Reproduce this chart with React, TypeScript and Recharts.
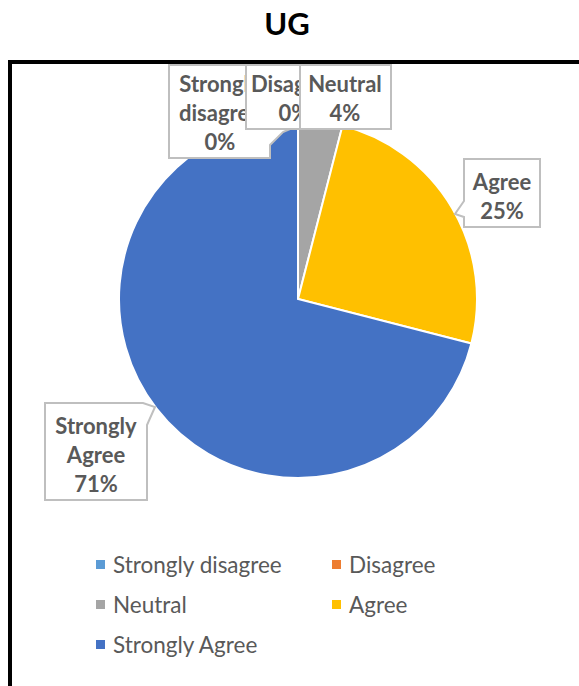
import { PieChart, Pie, Cell, Legend } from "recharts"

const categories = ["Strongly disagree", "Disagree", "Neutral", "Agree", "Strongly Agree"]
const shares = [0, 0, 4, 25, 71]
const colors = ["#5B9BD5", "#ED7D31", "#A5A5A5", "#FFC000", "#4472C4"]
const title = "UG"

const data = categories.map((name, i) => ({ name, value: shares[i] }))

const CX = 298
const CY = 299
const FONT = "Lato, 'Open Sans', sans-serif"
const GREY_TEXT = "#595959"

// callout outlines (absolute px, shifted to the pie centre below) and text centres
const callouts: { pts: [number, number][]; tx: number; ty: number }[] = [
  {
    pts: [[169, 65], [290, 65], [290, 129], [283, 132], [270, 145], [270, 158], [169, 158]],
    tx: 220,
    ty: 83,
  },
  { pts: [[246, 65], [342, 65], [342, 129], [246, 129]], tx: 294, ty: 83 },
  { pts: [[300, 65], [391, 65], [391, 129], [300, 129]], tx: 345, ty: 83 },
  {
    pts: [[464, 159], [540, 159], [540, 227], [464, 227], [464, 217], [455, 214], [464, 201]],
    tx: 502,
    ty: 181,
  },
  {
    pts: [[45, 403], [143, 403], [155, 407], [147, 425], [147, 500], [45, 500]],
    tx: 96,
    ty: 425,
  },
]

function CalloutLabel(props: any) {
  const { cx, cy, index, name, percent } = props
  const c = callouts[index]
  if (!c) return null
  const dx = cx - CX
  const dy = cy - CY
  const d =
    c.pts.map(([x, y], i) => `${i === 0 ? "M" : "L"}${x + dx},${y + dy}`).join(" ") + " Z"
  const lines = [...String(name).split(" "), `${Math.round(percent * 100)}%`]
  return (
    <g>
      <path d={d} fill="#FFFFFF" stroke="#BFBFBF" strokeWidth={2} />
      {lines.map((t, i) => (
        <text
          key={i}
          x={c.tx + dx}
          y={c.ty + dy + i * 29}
          textAnchor="middle"
          dominantBaseline="central"
          fontFamily={FONT}
          fontWeight={700}
          fontSize={22}
          fill={GREY_TEXT}
        >
          {t}
        </text>
      ))}
    </g>
  )
}

function LegendGrid({ payload }: any) {
  const items = [...(payload || [])].sort(
    (a: any, b: any) => categories.indexOf(a.value) - categories.indexOf(b.value)
  )
  return (
    <div style={{ display: "grid", gridTemplateColumns: "236px 200px" }}>
      {items.map((item: any) => (
        <div
          key={item.value}
          style={{ display: "flex", alignItems: "center", height: 40 }}
        >
          <span
            style={{ width: 9, height: 9, background: item.color, marginRight: 8, flex: "none" }}
          />
          <span style={{ fontFamily: FONT, fontSize: 22.5, color: GREY_TEXT, whiteSpace: "nowrap" }}>
            {item.value}
          </span>
        </div>
      ))}
    </div>
  )
}

export default function App() {
  return (
    <div
      style={{
        position: "absolute",
        left: 0,
        top: 0,
        width: 579,
        height: 686,
        background: "#FFFFFF",
        overflow: "hidden",
      }}
    >
      <div
        style={{
          position: "absolute",
          left: 0,
          top: 4,
          width: 574,
          textAlign: "center",
          fontFamily: FONT,
          fontWeight: 700,
          fontSize: 31,
          color: "#000000",
        }}
      >
        {title}
      </div>
      <div
        style={{
          position: "absolute",
          left: 8,
          top: 60,
          width: 700,
          height: 700,
          borderLeft: "4px solid #000000",
          borderTop: "4px solid #000000",
        }}
      />
      <div style={{ position: "absolute", left: 0, top: 0 }}>
        <PieChart width={579} height={686} margin={{ top: 0, right: 0, bottom: 0, left: 0 }}>
          <Pie
            data={data}
            dataKey="value"
            nameKey="name"
            cx={CX}
            cy={CY}
            outerRadius={179}
            startAngle={90}
            endAngle={-270}
            stroke="#FFFFFF"
            strokeWidth={2}
            labelLine={false}
            label={CalloutLabel}
            isAnimationActive={false}
          >
            {data.map((d, i) => (
              <Cell key={d.name} fill={colors[i]} />
            ))}
          </Pie>
          <Legend
            content={LegendGrid}
            wrapperStyle={{ left: 96, top: 544, width: 460, bottom: "auto" }}
          />
        </PieChart>
      </div>
    </div>
  )
}
